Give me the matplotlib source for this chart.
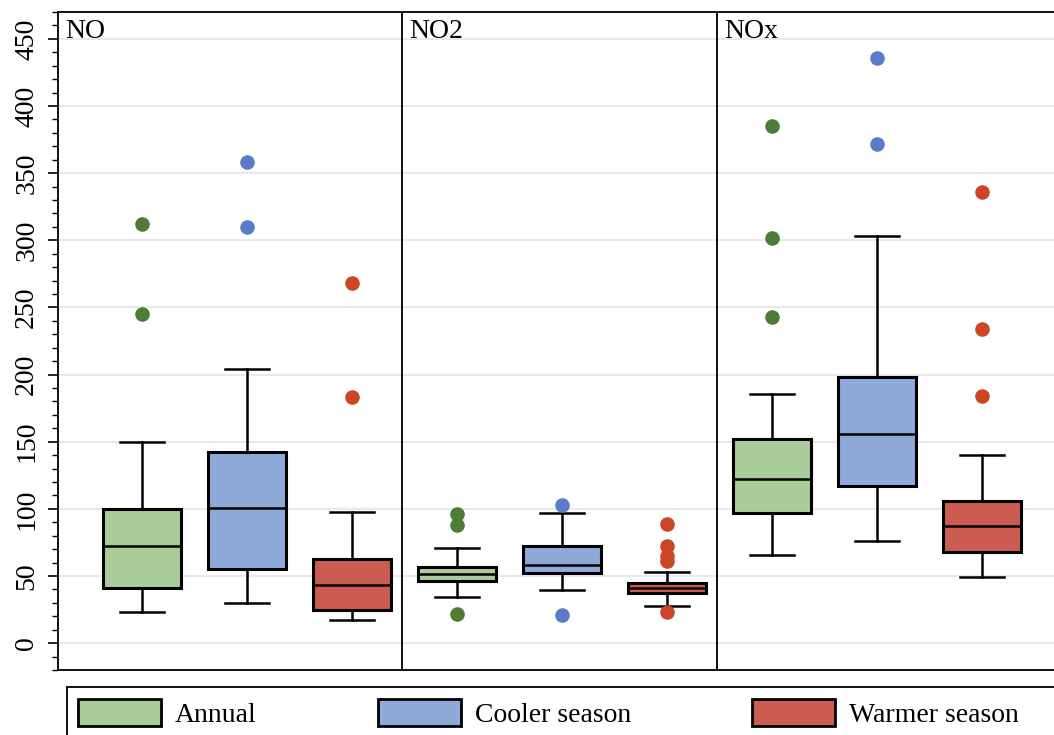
import matplotlib
matplotlib.use("Agg")
import matplotlib.pyplot as plt
from matplotlib.patches import Patch, Rectangle
from matplotlib.ticker import MultipleLocator

plt.rcParams['font.family'] = ['Liberation Serif', 'DejaVu Serif']

# ---------------- data ----------------
pollutants = ['NO', 'NO2', 'NOx']
seasons = ['Annual', 'Cooler season', 'Warmer season']

# [whislo, q1, median, q3, whishi]
no_annual = [23, 41, 72, 100, 150]
no_cooler = [30, 55.5, 101, 142, 204]
no_warmer = [17, 25, 43.5, 63, 98]
no2_annual = [34, 46, 51.5, 57, 71]
no2_cooler = [39.5, 52, 58, 72, 97]
no2_warmer = [27.5, 37, 41, 44.5, 53]
nox_annual = [66, 97, 122, 152, 185.5]
nox_cooler = [76, 117, 156, 198.5, 303]
nox_warmer = [49, 68, 87, 105.5, 140]

no_annual_out = [312, 245]
no_cooler_out = [358, 310]
no_warmer_out = [268, 183]
no2_annual_out = [96, 88, 22]
no2_cooler_out = [103, 21]
no2_warmer_out = [88.5, 72.5, 65, 61, 23]
nox_annual_out = [385, 301.5, 243]
nox_cooler_out = [435.5, 371.5]
nox_warmer_out = [336, 234, 184]

box_stats = {
    'NO': [no_annual, no_cooler, no_warmer],
    'NO2': [no2_annual, no2_cooler, no2_warmer],
    'NOx': [nox_annual, nox_cooler, nox_warmer],
}
outliers = {
    'NO': [no_annual_out, no_cooler_out, no_warmer_out],
    'NO2': [no2_annual_out, no2_cooler_out, no2_warmer_out],
    'NOx': [nox_annual_out, nox_cooler_out, nox_warmer_out],
}
yticks = [0, 50, 100, 150, 200, 250, 300, 350, 400, 450]

# ---------------- style ----------------
fill_colors = ['#a9cc99', '#8eaad9', '#cc5b50']
flier_colors = ['#4d7d35', '#5b7cc6', '#cc4526']

W, H = 1054, 735
fig = plt.figure(figsize=(W / 100, H / 100), dpi=100)

# panel pixel extents (left, right)
panels_px = [(58, 402), (402, 717), (717, 1062)]
first_offset = [84, 55, 55]
spacing_px = 105.0
top_px, bot_px = 12, 670

axes = []
for i, (name, (l, r)) in enumerate(zip(pollutants, panels_px)):
    ax = fig.add_axes([l / W, 1 - bot_px / H, (r - l) / W, (bot_px - top_px) / H])
    axes.append(ax)

    stats = []
    for j, s in enumerate(seasons):
        lo, q1, med, q3, hi = box_stats[name][j]
        stats.append(dict(label=s, whislo=lo, q1=q1, med=med, q3=q3, whishi=hi,
                          fliers=[]))
    bp = ax.bxp(stats, positions=[1, 2, 3], widths=0.752, capwidths=0.42,
                patch_artist=True, showfliers=False, manage_ticks=False,
                boxprops=dict(lw=2.2, edgecolor='black'),
                whiskerprops=dict(lw=1.8, color='black'),
                capprops=dict(lw=1.8, color='black'),
                medianprops=dict(lw=1.8, color='black'))
    for patch, fc in zip(bp['boxes'], fill_colors):
        patch.set_facecolor(fc)
    for j in range(3):
        vals = outliers[name][j]
        ax.plot([j + 1] * len(vals), vals, 'o', ms=10.5, color=flier_colors[j],
                mec='none', zorder=4)

    xmin = 1 - first_offset[i] / spacing_px
    ax.set_xlim(xmin, xmin + (r - l) / spacing_px)
    ax.set_ylim(-20, 470)
    ax.set_axisbelow(True)
    ax.set_yticks(yticks)
    ax.grid(axis='y', color='#e9e9e9', lw=1.5)
    ax.set_xticks([])
    for sp in ax.spines.values():
        sp.set_linewidth(1.4)
        sp.set_color('#111111')

    ax.annotate(name, xy=(0, 1), xycoords='axes fraction', xytext=(5, -5),
                textcoords='offset points', ha='left', va='top', fontsize=20)

    if i == 0:
        ax.yaxis.set_minor_locator(MultipleLocator(10))
        ax.tick_params(axis='y', which='major', length=7.5, width=1.2,
                       labelsize=20, labelrotation=90, pad=6)
        ax.tick_params(axis='y', which='minor', length=4, width=1.0)
        for lab in ax.get_yticklabels():
            lab.set_va('center')
    else:
        ax.tick_params(axis='y', which='both', left=False, labelleft=False)

axes[-1].spines['right'].set_visible(False)

# ---------------- legend ----------------
handles = [Patch(facecolor=c, edgecolor='black', lw=2) for c in fill_colors]
fig.legend(handles, seasons, loc='upper left',
           bbox_to_anchor=(53 / W, 1 - 674 / H), frameon=False, ncol=3,
           fontsize=20, handlelength=3.0, handleheight=1.1, handletextpad=0.5,
           columnspacing=4.35, borderpad=0.4)
fig.patches.append(Rectangle((67 / W, -0.1), 1.0, 0.1 + (1 - 687 / H),
                             transform=fig.transFigure, fill=False,
                             ec='#111111', lw=1.4))

fig.savefig('out.png', dpi=100)
